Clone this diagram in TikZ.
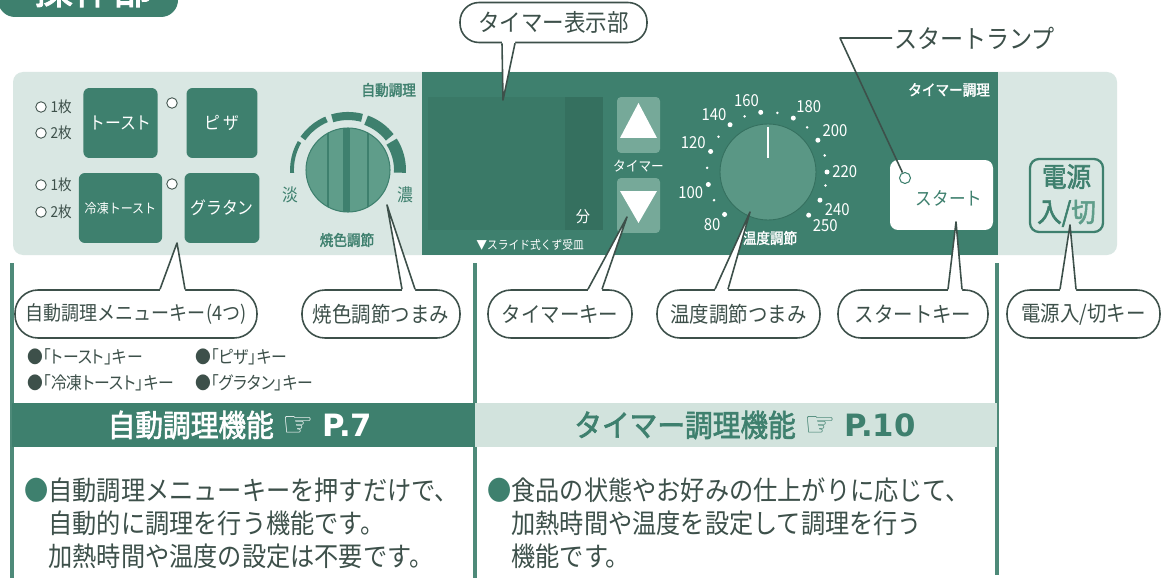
\documentclass[tikz,border=0pt]{standalone}
\usepackage{fontspec}
\setmainfont{Noto Sans CJK JP}[FakeStretch=0.9]
\newfontfamily\jpbold{Noto Sans CJK JP}[FakeStretch=0.9,FakeBold=2]
\newfontfamily\jpprop{Noto Sans CJK JP}[FakeStretch=0.9,RawFeature={+palt}]
\newfontfamily\symb{DejaVu Sans}
\usetikzlibrary{calc,positioning}

\definecolor{panelgreen}{HTML}{3E806E}
\definecolor{panellight}{HTML}{D9E7E3}
\definecolor{headlight}{HTML}{D2E3DD}
\definecolor{knobgreen}{HTML}{5F9D8A}
\definecolor{dialgreen}{HTML}{5A9785}
\definecolor{inkgrey}{HTML}{3D504A}
\definecolor{rulegreen}{HTML}{4E8A79}
\definecolor{btnlight}{HTML}{76A999}
\definecolor{dispgreen}{HTML}{3A7967}
\definecolor{dispdark}{HTML}{35705F}

% callout tail: anchor, left dx, right dx, tip, overlap into the bubble
\newcommand\calltail[5]{%
  \fill[white] ($(#1)+(#2,#5)$) -- ($(#1)+(#2,0)$) -- (#4) -- ($(#1)+(#3,0)$) -- ($(#1)+(#3,#5)$) -- cycle;
  \draw[tailline] ($(#1)+(#2,0)$) -- (#4) -- ($(#1)+(#3,0)$);}

\begin{document}
\begin{tikzpicture}[x=0.02cm, y=-0.02cm,
    bubble/.style = {draw=inkgrey, line width=0.9pt, fill=white, rounded corners=0.46cm,
      minimum height=0.96cm, inner xsep=0.1cm, text=inkgrey, font=\fontsize{12.3pt}{14pt}\selectfont},
    tailline/.style = {draw=inkgrey, line width=0.9pt, line join=round},
    menubtn/.style = {fill=panelgreen, rounded corners=0.12cm, minimum width=1.42cm,
      minimum height=1.4cm, text=white, font=\fontsize{10pt}{12pt}\selectfont},
    ledlamp/.style = {circle, draw=inkgrey, fill=white, line width=0.5pt, minimum size=0.21cm, inner sep=0pt},
    small/.style = {text=inkgrey, font=\fontsize{8.6pt}{10pt}\selectfont, inner sep=1pt},
    paneltag/.style = {font=\jpbold\fontsize{8.6pt}{10pt}\selectfont, inner sep=1pt},
    dialnum/.style = {text=white, font=\fontsize{9.4pt}{10pt}\selectfont, inner sep=0.6pt},
    bigdot/.style = {circle, fill=white, inner sep=0pt, minimum size=0.1cm},
    desc/.style = {text=inkgrey, align=left, inner sep=0pt, font=\fontsize{15.3pt}{18.7pt}\selectfont},
    bullet/.style = {text=inkgrey, inner sep=0pt, font=\jpprop\fontsize{10pt}{11pt}\selectfont},
    headtext/.style = {font=\jpbold\fontsize{17.5pt}{19pt}\selectfont}]

  \useasboundingbox (0,0) rectangle (1170,588);
  \clip (0,0) rectangle (1170,588);
  \fill[white] (0,0) rectangle (1170,588);

  % title tab
  \fill[panelgreen, rounded corners=0.34cm] (-2,-60) rectangle (178,17);
  \node[font=\jpbold\fontsize{25pt}{26pt}\selectfont, text=white] (title) at (93,-13) {操作部};

  % panel
  \fill[panellight, rounded corners=0.2cm] (13,72) rectangle (1117,255);
  \fill[panelgreen] (422,72) rectangle (998,255);

  % auto cooking keys
  \node[menubtn] (toast) at (120.5,123) {トースト};
  \node[menubtn] (pizza) at (222,123) {ピ\,ザ};
  \node[menubtn, font=\fontsize{7.6pt}{9pt}\selectfont] (frozen) at (120.5,208) {冷凍トースト};
  \node[menubtn] (gratin) at (222,208) {グラタン};
  \foreach \y/\n in {107/1,133/2,185/1,212/2} {
    \node[ledlamp] (slice\y) at (41,\y) {};
    \node[small, right=1pt of slice\y] {\n 枚};
  }
  \node[ledlamp] (pizzalamp) at (172,103) {};
  \node[ledlamp] (gratinlamp) at (172,184) {};
  \node[paneltag, text=panelgreen, anchor=east] (autotag) at (418,90) {自動調理};

  % browning knob
  \begin{scope}[shift={(348,170)}, y=0.02cm]
    \foreach \a/\b/\w/\r in {183/150/2.2/56, 145/113/3.4/55, 107/75/4.6/54, 70/38/5.7/53, 33/-3/6.8/52}
      \draw[panelgreen, line width=\w pt] (\a:\r) arc (\a:\b:\r);
  \end{scope}
  \node[circle, fill=knobgreen, minimum size=1.68cm, inner sep=0pt] (browning) at (348,170) {};
  \begin{scope}
    \clip (348,170) circle (42);
    \draw[panelgreen, line width=0.6pt] (328,120) -- (328,220) (368,120) -- (368,220);
    \fill[panelgreen] (343,120) rectangle (350,220);
  \end{scope}
  \draw[panelgreen, line width=0.6pt] (348,170) circle (42);
  \node[text=panelgreen, font=\fontsize{10pt}{11pt}\selectfont] (light) at (290,195) {淡};
  \node[text=panelgreen, font=\fontsize{10pt}{11pt}\selectfont] (dark) at (405,195) {濃};
  \node[paneltag, text=panelgreen] (browntag) at (347,240) {焼色調節};

  % timer display
  \fill[dispgreen] (428,97) rectangle (603,230);
  \fill[dispdark] (565,97) rectangle (603,230);
  \node[text=white, font=\fontsize{9pt}{10pt}\selectfont] (minute) at (583,217) {分};
  \node[text=white, anchor=west, inner sep=0pt, font=\fontsize{6.8pt}{8pt}\selectfont] (tray) at (476,245) {▼スライド式くず受皿};

  % timer keys
  \node[fill=btnlight, rounded corners=0.08cm, minimum width=0.86cm, minimum height=1.12cm] (upkey) at (638.5,125) {};
  \node[fill=btnlight, rounded corners=0.08cm, minimum width=0.86cm, minimum height=1.1cm] (downkey) at (638.5,205.5) {};
  \fill[white] (620,138) -- (657,138) -- (638.5,103) -- cycle;
  \fill[white] (620,191) -- (657,191) -- (638.5,223) -- cycle;
  \node[text=white, font=\fontsize{8pt}{9pt}\selectfont] (timertag) at (638.5,166) {タイマー};

  % temperature dial
  \node[circle, fill=dialgreen, draw=dispdark, line width=0.5pt, minimum size=1.92cm, inner sep=0pt] (tempknob) at (768,172) {};
  \draw[white, line width=1.2pt] (768,127) -- (768,158);
  \begin{scope}[shift={(767,172)}, y=0.02cm]
    \foreach \a/\t in {225/80,192/100,160/120,128/140,96/160,64/180,32/200,0/220,-28/240,-46/250}
      \node[bigdot, label={[dialnum, label distance=0.02cm]\a:\t}] (deg\t) at (\a:60) {};
    \foreach \a in {208,176,144,112,80,48,16,-13}
      \fill[white] (\a:60) circle (1.4);
  \end{scope}
  \node[paneltag, text=white] (temptag) at (770,238) {温度調節};
  \node[paneltag, text=white, anchor=east] (timercook) at (992,90) {タイマー調理};

  % start key and lamp
  \node[fill=white, rounded corners=0.16cm, minimum width=2.06cm, minimum height=1.4cm] (startbtn) at (941.5,195) {};
  \node[circle, draw=panelgreen, line width=0.6pt, minimum size=0.22cm, inner sep=0pt] (lamp) at (905,178) {};
  \node[text=panelgreen, font=\fontsize{10.5pt}{12pt}\selectfont] (starttag) at (949,198) {スタート};

  % power key
  \node[draw=panelgreen, line width=1.3pt, rounded corners=0.18cm, minimum width=1.46cm, minimum height=1.46cm,
    align=center, text=panelgreen, inner sep=0pt, font=\jpbold\fontsize{15.5pt}{20pt}\selectfont] (powerbtn) at (1066.5,195.5)
    {電源\\入/{\color{knobgreen}切}};

  % lamp callout
  \node[text=inkgrey, anchor=west, inner sep=1pt, font=\fontsize{14.6pt}{16pt}\selectfont] (lamptext) at (892,38) {スタートランプ};
  \coordinate (lampbend) at (840,38);
  \draw[tailline] (lamptext.west) -- (lampbend) -- (lamp);

  % display callout
  \node[bubble, minimum height=0.8cm, rounded corners=0.38cm, minimum width=3.74cm,
    font=\fontsize{13.6pt}{15pt}\selectfont] (dispbubble) at (553.5,22.5) {タイマー表示部};
  \coordinate (disptip) at (503,100);
  \calltail{dispbubble.south}{-51.5}{-38.5}{disptip}{-2.5}

  % dividers
  \draw[rulegreen, line width=2.2pt] (12,263) -- (12,578);
  \draw[rulegreen, line width=2.2pt] (475,263) -- (475,578);
  \draw[rulegreen, line width=2.2pt] (997,263) -- (997,575);

  % key callouts
  \node[bubble, minimum width=4.84cm, font=\fontsize{11.4pt}{14pt}\selectfont] (menukey) at (136,314) {自動調理メニューキー(4つ)};
  \node[bubble, minimum width=3.16cm] (browningkey) at (381,314) {焼色調節つまみ};
  \node[bubble, minimum width=2.88cm] (timerkey) at (560,314) {タイマーキー};
  \node[bubble, minimum width=3.26cm] (tempkey) at (738.5,314) {温度調節つまみ};
  \node[bubble, minimum width=3.0cm] (startkey) at (913,314) {スタートキー};
  \node[bubble, minimum width=3.06cm] (powerkey) at (1083.5,314) {電源入/切キー};

  \coordinate (menutip) at (177,243);
  \coordinate (browntip) at (387,205);
  \coordinate (timertip) at (627,217);
  \coordinate (temptip) at (750,212);
  \coordinate (starttip) at (956,222);
  \coordinate (powertip) at (1070,225);
  \calltail{menukey.north}{24}{49}{menutip}{2.5}
  \calltail{browningkey.north}{21}{34}{browntip}{2.5}
  \calltail{timerkey.north}{28}{42}{timertip}{2.5}
  \calltail{tempkey.north}{-23.5}{-10.5}{temptip}{2.5}
  \calltail{startkey.north}{35}{49}{starttip}{2.5}
  \calltail{powerkey.north}{-23.5}{-7.5}{powertip}{2.5}

  % menu key list
  \node[bullet, anchor=west] (list1) at (27,357) {●「トースト」キー};
  \node[bullet, anchor=west] (list2) at (195,357) {●「ピザ」キー};
  \node[bullet, anchor=west] (list3) at (27,383) {●「冷凍トースト」キー};
  \node[bullet, anchor=west] (list4) at (195,383) {●「グラタン」キー};

  % function headings
  \fill[panelgreen] (12,403) rectangle (475,447);
  \fill[headlight] (475,403) rectangle (997,447);
  \node[headtext, text=white] (autohead) at (240,425) {自動調理機能\;{\symb\fontsize{20pt}{20pt}\selectfont ☞}\;{\symb\bfseries P.7}};
  \node[headtext, text=panelgreen] (timerhead) at (745,425) {タイマー調理機能\;{\symb\fontsize{20pt}{20pt}\selectfont ☞}\;{\symb\bfseries P.10}};

  % descriptions
  \node[desc, anchor=west] (autodesc) at (24,523)
    {{\color{panelgreen}●}自動調理メニューキーを押すだけで、\\
     \hphantom{●}自動的に調理を行う機能です。\\
     \hphantom{●}加熱時間や温度の設定は不要です。};
  \node[desc, anchor=west] (timerdesc) at (487,523)
    {{\color{panelgreen}●}食品の状態やお好みの仕上がりに応じて、\\
     \hphantom{●}加熱時間や温度を設定して調理を行う\\
     \hphantom{●}機能です。};

\end{tikzpicture}
\end{document}
